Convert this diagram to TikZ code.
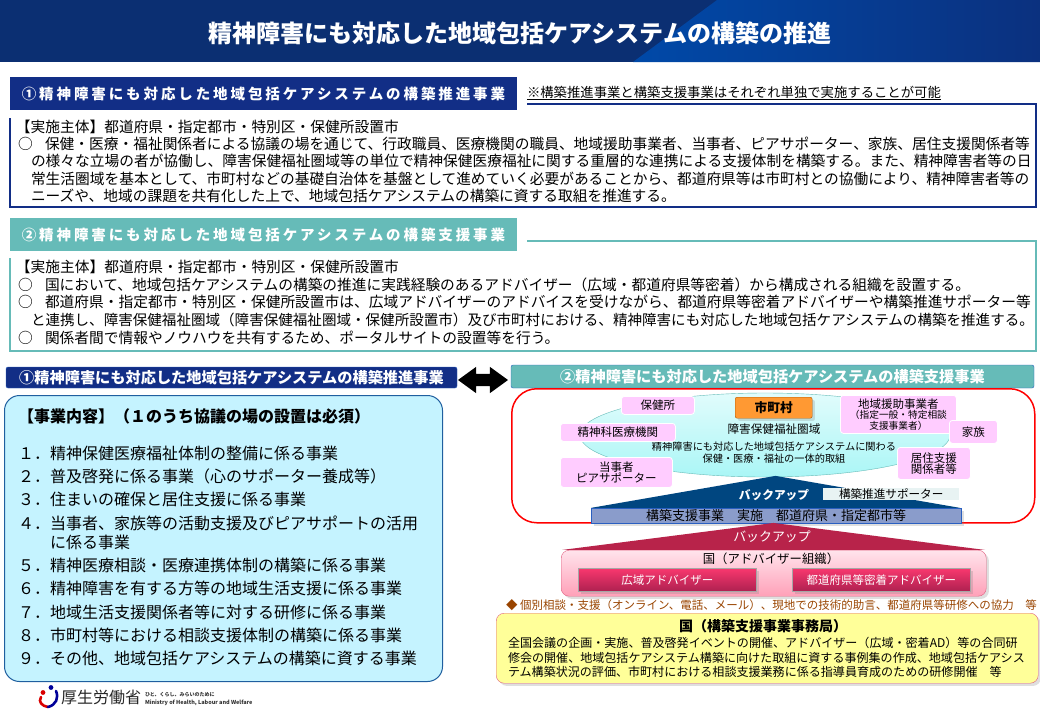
\documentclass[tikz,border=0pt]{standalone}
\usepackage{fontspec}
\setmainfont{Noto Sans CJK JP}
\usetikzlibrary{shapes.geometric,shapes.arrows,shadows}
\definecolor{navy}{HTML}{122E86}
\definecolor{teal1}{HTML}{66BBB8}
\definecolor{pinkbox}{HTML}{FFCCFF}
\definecolor{crimson}{HTML}{B8234A}
\definecolor{backblue}{HTML}{004680}
\definecolor{edgeblue}{HTML}{2A5FC0}
\definecolor{btntop}{HTML}{F8386E}
\definecolor{btnbot}{HTML}{AE2050}
\newcommand{\fs}[1]{\fontsize{#1}{#1}\selectfont}
\newcommand{\spaced}{\addfontfeature{LetterSpace=20}}
\tikzset{
	txt/.style={inner sep=0pt, outer sep=0pt, anchor=west, align=left},
	ctr/.style={inner sep=0pt, outer sep=0pt, align=center},
	body/.style={txt, font=\fontsize{14.72}{17.6}\selectfont},
	listrow/.style={txt, font=\fs{16}},
	person/.style={rounded corners=3pt, draw=white, line width=0.8pt, fill=pinkbox, inner sep=0pt, align=center, font=\fs{11.5}, anchor=north west},
	redbtn/.style={draw=gray!70, line width=0.8pt, top color=btntop, bottom color=btnbot, text=white, inner sep=0pt, font=\fs{11.5}, anchor=north west, minimum width=178pt, minimum height=23pt, drop shadow={opacity=0.25}}
}
\begin{document}
\begin{tikzpicture}[x=1pt,y=-1pt]
	\useasboundingbox (0,0) rectangle (1040,720);
	% title band
	\fill[color={rgb,255:red,11;green,47;blue,114}] (0,0) rectangle (1040,62);
	\shade[left color={rgb,255:red,0;green,73;blue,168}, right color={rgb,255:red,11;green,49;blue,127}] (717,0) -- (1040,0) -- (1040,62) -- (633,62) -- cycle;
	\node (title) at (520,33) [ctr, text=white, font=\bfseries\fs{24}] {精神障害にも対応した地域包括ケアシステムの構築の推進};

	% section 1
	\coordinate (s1a) at (527,104);
	\coordinate (s1b) at (1036,104);
	\coordinate (s1c) at (1036,207);
	\coordinate (s1d) at (10,207);
	\coordinate (s1e) at (10,118);
	\draw[navy, line width=1.6pt] (s1a) -- (s1b) -- (s1c) -- (s1d) -- (s1e);
	\node (s1head) at (10,93.5) [txt, fill=navy, text=white, minimum width=507pt, minimum height=33pt, font=\bfseries\fs{14.5}\spaced, align=center] {①精神障害にも対応した地域包括ケアシステムの構築推進事業};
	\node (s1note) at (527,92) [txt, font=\fs{13.35}] {※構築推進事業と構築支援事業はそれぞれ単独で実施することが可能};
	\coordinate (s1u) at (941,99.5);
	\coordinate (s1v) at (527,99.5);
	\draw[line width=0.7pt] (s1v) -- (s1u);
	\node (s1who) at (16,127) [body] {【実施主体】都道府県・指定都市・特別区・保健所設置市};
	\node (s1o) at (18,144) [body] {○};
	\node (s1p) at (45,144) [body] {保健・医療・福祉関係者による協議の場を通じて、行政職員、医療機関の職員、地域援助事業者、当事者、ピアサポーター、家族、居住支援関係者等};
	\node (s1q) at (31,161.3) [body] {の様々な立場の者が協働し、障害保健福祉圏域等の単位で精神保健医療福祉に関する重層的な連携による支援体制を構築する。また、精神障害者等の日};
	\node (s1r) at (31,178.6) [body] {常生活圏域を基本として、市町村などの基礎自治体を基盤として進めていく必要があることから、都道府県等は市町村との協働により、精神障害者等の};
	\node (s1s) at (31,196) [body] {ニーズや、地域の課題を共有化した上で、地域包括ケアシステムの構築に資する取組を推進する。};

	% section 2
	\coordinate (s2a) at (527,241);
	\coordinate (s2b) at (1036,241);
	\coordinate (s2c) at (1036,351);
	\coordinate (s2d) at (10,351);
	\coordinate (s2e) at (10,258);
	\draw[teal1, line width=1.6pt] (s2a) -- (s2b) -- (s2c) -- (s2d) -- (s2e);
	\node (s2head) at (10,234.5) [txt, fill=teal1, text=white, minimum width=507pt, minimum height=33pt, font=\bfseries\fs{14.5}\spaced, align=center] {②精神障害にも対応した地域包括ケアシステムの構築支援事業};
	\node (s2who) at (16,267) [body] {【実施主体】都道府県・指定都市・特別区・保健所設置市};
	\node (s2o1) at (18,284.5) [body] {○};
	\node (s2p) at (45,284.5) [body] {国において、地域包括ケアシステムの構築の推進に実践経験のあるアドバイザー（広域・都道府県等密着）から構成される組織を設置する。};
	\node (s2o2) at (18,302) [body] {○};
	\node (s2q) at (45,302) [body] {都道府県・指定都市・特別区・保健所設置市は、広域アドバイザーのアドバイスを受けながら、都道府県等密着アドバイザーや構築推進サポーター等};
	\node (s2r) at (31,320) [txt, font=\fs{14.55}] {と連携し、障害保健福祉圏域（障害保健福祉圏域・保健所設置市）及び市町村における、精神障害にも対応した地域包括ケアシステムの構築を推進する。};
	\node (s2o3) at (18,337.5) [body] {○};
	\node (s2s) at (45,337.5) [body] {関係者間で情報やノウハウを共有するため、ポータルサイトの設置等を行う。};

	% lower headers
	\node (lhead) at (231.5,377.5) [ctr, rounded corners=2pt, draw=edgeblue, fill=navy, text=white, minimum width=451pt, minimum height=21pt, font=\bfseries\fs{15.2}] {①精神障害にも対応した地域包括ケアシステムの構築推進事業};
	\node (rhead) at (772.5,376.5) [ctr, rounded corners=2pt, draw=edgeblue, fill=teal1, text=white, minimum width=523pt, minimum height=23pt, font=\bfseries\fs{15.2}] {②精神障害にも対応した地域包括ケアシステムの構築支援事業};
	\node (link) at (483,380) [double arrow, fill=black, inner sep=0pt, text height=12pt, text depth=0pt, minimum height=50pt, double arrow head extend=7pt, double arrow tip angle=72] {};

	% left box
	\node (lbox) at (4,395) [anchor=north west, inner sep=0pt, rounded corners=15pt, draw={rgb,255:red,31;green,95;blue,159}, line width=1pt, fill={rgb,255:red,197;green,243;blue,255}, minimum width=438pt, minimum height=286pt] {};
	\node (lhdg) at (18,416) [txt, font=\bfseries\fs{16}] {【事業内容】（１のうち協議の場の設置は必須）};
	\node (i1) at (18,453) [listrow] {\makebox[32pt][l]{１．}精神保健医療福祉体制の整備に係る事業};
	\node (i2) at (18,476) [listrow] {\makebox[32pt][l]{２．}普及啓発に係る事業（心のサポーター養成等）};
	\node (i3) at (18,499) [listrow] {\makebox[32pt][l]{３．}住まいの確保と居住支援に係る事業};
	\node (i4) at (18,523) [listrow] {\makebox[32pt][l]{４．}当事者、家族等の活動支援及びピアサポートの活用};
	\node (i4b) at (50,542) [listrow] {に係る事業};
	\node (i5) at (18,565) [listrow] {\makebox[32pt][l]{５．}精神医療相談・医療連携体制の構築に係る事業};
	\node (i6) at (18,588) [listrow] {\makebox[32pt][l]{６．}精神障害を有する方等の地域生活支援に係る事業};
	\node (i7) at (18,612) [listrow] {\makebox[32pt][l]{７．}地域生活支援関係者等に対する研修に係る事業};
	\node (i8) at (18,635) [listrow] {\makebox[32pt][l]{８．}市町村等における相談支援体制の構築に係る事業};
	\node (i9) at (18,658) [listrow] {\makebox[32pt][l]{９．}その他、地域包括ケアシステムの構築に資する事業};

	% logo
	\draw[red!85!black, line width=2.6pt, line cap=round] (41,697) .. controls (38,702) and (42,706) .. (48,707);
	\draw[blue!60!black, line width=2.6pt, line cap=round] (56,691) .. controls (59,698) and (56,705) .. (48,707);
	\fill[red!85!black] (43,692.5) circle (2.4pt);
	\fill[blue!60!black] (51,687.5) circle (2.4pt);
	\node (logo) at (61,697) [txt, font=\fs{16}, text=black!85] {厚生労働省};
	\node (logoa) at (145,695) [txt, font=\bfseries\fs{5}, text=black!80] {ひと、くらし、みらいのために};
	\node (logob) at (145,703) [txt, font=\bfseries\fs{5.5}, text=black!80] {Ministry of Health, Labour and Welfare};

	% right panel
	\node (rbox) at (511,388) [anchor=north west, inner sep=0pt, rounded corners=25pt, draw=red, line width=1.5pt, fill=white, minimum width=523pt, minimum height=134pt] {};
	\node (area) at (765,435) [ellipse, draw=teal1, top color={rgb,255:red,225;green,252;blue,252}, bottom color={rgb,255:red,170;green,246;blue,246}, minimum width=370pt, minimum height=84pt, inner sep=0pt] {};
	\node (areaa) at (774,429) [ctr, font=\fs{11.6}] {障害保健福祉圏域};
	\node (areab) at (774,447) [ctr, font=\fs{10.2}] {精神障害にも対応した地域包括ケアシステムに関わる};
	\node (areac) at (774,459) [ctr, font=\fs{10.2}] {保健・医療・福祉の一体的取組};
	\node (hoken) at (621,396) [person, minimum width=73pt, minimum height=18pt] {保健所};
	\node (city) at (735,397) [anchor=north west, rounded corners=2pt, draw=orange!70!black, fill={rgb,255:red,255;green,153;blue,51}, inner sep=0pt, minimum width=77pt, minimum height=21pt, font=\bfseries\fs{12.7}, drop shadow={opacity=0.25}] {市町村};
	\node (clinic) at (560,423) [person, minimum width=115pt, minimum height=18pt] {精神科医療機関};
	\node (local) at (840,395) [person, minimum width=116pt, minimum height=38pt] {地域援助事業者\\[-1pt]{\fs{9.7}（指定一般・特定相談}\\[-1pt]{\fs{9.7}支援事業者）}};
	\node (family) at (949,420) [person, minimum width=48pt, minimum height=23pt] {家族};
	\node (peer) at (560,457) [person, minimum width=112pt, minimum height=30pt] {当事者\\[-1pt]ピアサポーター};
	\node (house) at (897,447) [person, minimum width=73pt, minimum height=32pt] {居住支援\\[-1pt]関係者等};

	% back up from prefecture
	\node (tri1) at (775.5,492) [isosceles triangle, isosceles triangle apex angle=130, isosceles triangle stretches, shape border rotate=90, fill=backblue, inner sep=0pt, minimum width=369pt, minimum height=32pt] {};
	\node (back1) at (774,495) [ctr, text=white, font=\bfseries\fs{11.7}] {バックアップ};
	\node (sup) at (823,488) [anchor=north west, fill={rgb,255:red,232;green,243;blue,243}, inner sep=0pt, minimum width=136pt, minimum height=12pt, font=\fs{11.6}] {構築推進サポーター};
	\node (pref) at (591,508) [anchor=north west, draw=edgeblue, fill={rgb,255:red,138;green,156;blue,203}, inner sep=0pt, minimum width=370pt, minimum height=15pt, font=\fs{13}, drop shadow={opacity=0.25}] {構築支援事業　実施　都道府県・指定都市等};

	% back up from national adviser
	\node (natl) at (561,550) [anchor=north west, rounded corners=8pt, draw={rgb,255:red,224;green,96;blue,128}, top color={rgb,255:red,255;green,228;blue,236}, bottom color={rgb,255:red,255;green,160;blue,184}, inner sep=0pt, minimum width=425pt, minimum height=46pt, drop shadow={opacity=0.25}] {};
	\node (tri2) at (773.5,536.5) [isosceles triangle, isosceles triangle apex angle=130, isosceles triangle stretches, shape border rotate=90, fill=crimson, inner sep=0pt, minimum width=423pt, minimum height=27pt] {};
	\node (back2) at (772,537) [ctr, text=white, font=\fs{12.9}] {バックアップ};
	\node (natla) at (771,559) [ctr, font=\fs{12.4}] {国（アドバイザー組織）};
	\node (wide) at (578,568) [redbtn] {広域アドバイザー};
	\node (close) at (792,568) [redbtn] {都道府県等密着アドバイザー};
	\node (adv) at (506,605) [txt, text={rgb,255:red,153;green,68;blue,0}, font=\fs{11.5}] {◆ 個別相談・支援（オンライン、電話、メール）、現地での技術的助言、都道府県等研修への協力　等};

	% secretariat
	\node (sec) at (496,613) [anchor=north west, rounded corners=8pt, draw={rgb,255:red,224;green,96;blue,128}, fill={rgb,255:red,255;green,255;blue,153}, inner sep=0pt, minimum width=542pt, minimum height=70pt, drop shadow={opacity=0.25}] {};
	\node (seca) at (763,626) [ctr, font=\bfseries\fs{14}] {国（構築支援事業事務局）};
	\node (secb) at (508,643) [txt, font=\fs{12.05}] {全国会議の企画・実施、普及啓発イベントの開催、アドバイザー（広域・密着AD）等の合同研};
	\node (secc) at (508,657.5) [txt, font=\fs{12.05}] {修会の開催、地域包括ケアシステム構築に向けた取組に資する事例集の作成、地域包括ケアシス};
	\node (secd) at (508,672) [txt, font=\fs{12.05}] {テム構築状況の評価、市町村における相談支援業務に係る指導員育成のための研修開催　等};
\end{tikzpicture}
\end{document}
